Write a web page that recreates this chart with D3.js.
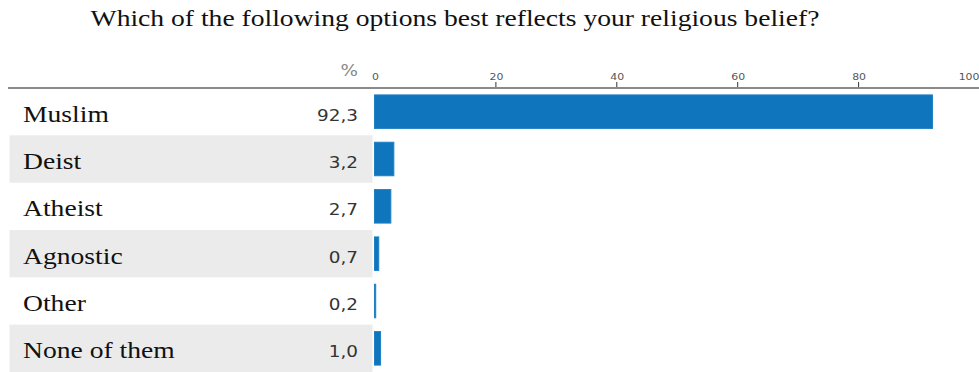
<!DOCTYPE html>
<html><head><meta charset="utf-8">
<script src="https://cdn.jsdelivr.net/npm/d3@7"></script>
<style>body{margin:0;background:#fff;}svg{display:block;}</style>
</head><body>
<script>
const categories = ["Muslim","Deist","Atheist","Agnostic","Other","None of them"];
const values = [92.3, 3.2, 2.7, 0.7, 0.2, 1.0];
const valueLabels = ["92,3","3,2","2,7","0,7","0,2","1,0"];
const tickValues = [0,20,40,60,80,100];
const title = "Which of the following options best reflects your religious belief?";

const W = 979, H = 372;
const SX = 1.15; // horizontal stretch of the text in the reference
const svg = d3.select("body").append("svg").attr("width",W).attr("height",H);

const x = d3.scaleLinear().domain([0,100]).range([374.5,979]);
const y = d3.scaleBand().domain(categories).range([88,372]).paddingInner(0).paddingOuter(0);

svg.append("text").attr("transform",`translate(455,26) scale(${SX},1)`).attr("text-anchor","middle")
  .attr("font-family","Liberation Serif, Times New Roman, serif").attr("font-size",24)
  .attr("fill","#111").text(title);

// row bands
svg.selectAll("rect.band").data(categories.filter((d,i)=>i%2===1)).join("rect")
  .attr("class","band").attr("x",9.5).attr("width",363)
  .attr("y",d=>y(d)).attr("height",y.bandwidth()).attr("fill","#ebebeb");

// axis
const axis = d3.axisTop(x).tickValues(tickValues).tickSize(6).tickPadding(2).tickFormat(d3.format("d"));
const gA = svg.append("g").attr("transform","translate(0,88)").call(axis);
gA.select(".domain").remove();
gA.selectAll(".tick line").attr("stroke","#333").attr("stroke-width",1)
  .attr("display",d=>(d===0||d===100)?"none":null);
gA.selectAll(".tick text").attr("font-family","DejaVu Sans, sans-serif").attr("font-size",9.5)
  .attr("fill","#555").attr("y",0)
  .attr("text-anchor",d=>d===100?"end":"middle")
  .attr("transform",d=>d===100?`translate(${979-x(100)},-8) scale(${SX},1)`:`translate(0.5,-8) scale(${SX},1)`)
  .attr("dy",0);
svg.append("line").attr("x1",8).attr("x2",979).attr("y1",88).attr("y2",88)
  .attr("stroke","#8a8a8a").attr("stroke-width",2);

svg.append("text").attr("transform",`translate(358,76) scale(${SX},1)`).attr("text-anchor","end")
  .attr("font-family","DejaVu Sans, sans-serif").attr("font-size",16).attr("fill","#888").text("%");

// bars
const barH = 33.5;
svg.selectAll("rect.bar").data(values).join("rect").attr("class","bar")
  .attr("x",x(0)).attr("y",(d,i)=>y(categories[i])+y.bandwidth()/2-barH/2)
  .attr("width",d=>x(d)-x(0)).attr("height",barH)
  .attr("fill","#0f75bc").attr("stroke","#1f80c4").attr("stroke-width",1);

// labels
svg.selectAll("text.cat").data(categories).join("text").attr("class","cat")
  .attr("transform",d=>`translate(23,${y(d)+y.bandwidth()/2+10}) scale(${SX},1)`)
  .attr("font-family","Liberation Serif, Times New Roman, serif").attr("font-size",24)
  .attr("fill","#111").text(d=>d);

svg.selectAll("text.val").data(valueLabels).join("text").attr("class","val")
  .attr("transform",(d,i)=>`translate(358,${y(categories[i])+y.bandwidth()/2+9}) scale(${SX},1)`)
  .attr("text-anchor","end")
  .attr("font-family","DejaVu Sans, sans-serif").attr("font-size",16)
  .attr("fill","#333").text(d=>d);
</script>
</body></html>
